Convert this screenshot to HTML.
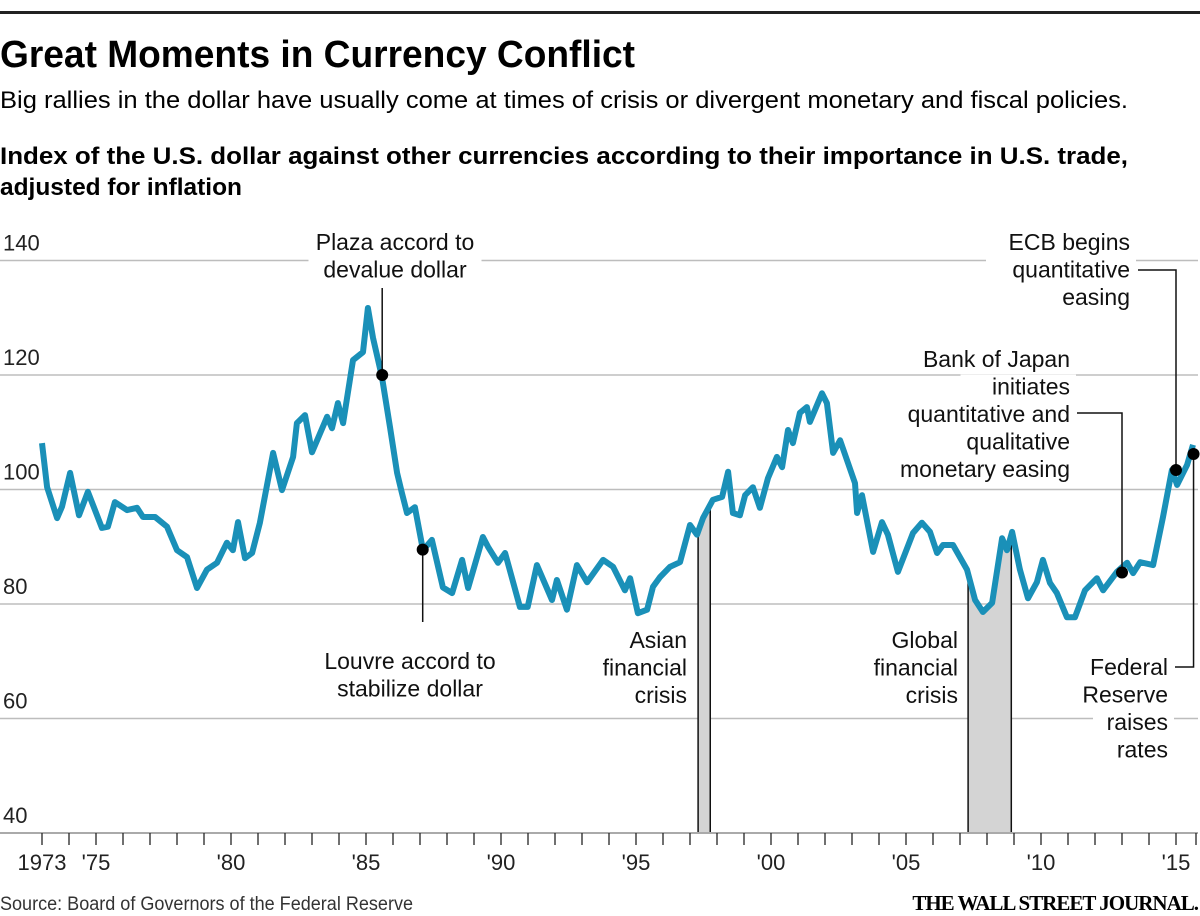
<!DOCTYPE html>
<html><head><meta charset="utf-8">
<style>
body{margin:0;background:#fff;width:1200px;height:916px;overflow:hidden;font-family:"Liberation Sans Narrow","Liberation Sans",sans-serif;color:#111}
svg{position:absolute;left:0;top:0}
</style></head>
<body>
<svg id="c" width="1200" height="916">
<rect x="0" y="11" width="1200" height="3" fill="#222"/>
<text x="0" y="67" font-size="38" font-weight="bold" textLength="635" lengthAdjust="spacingAndGlyphs">Great Moments in Currency Conflict</text>
<text x="0" y="108" font-size="24" textLength="1128" lengthAdjust="spacingAndGlyphs">Big rallies in the dollar have usually come at times of crisis or divergent monetary and fiscal policies.</text>
<text x="0" y="164" font-size="24" font-weight="bold" textLength="1128" lengthAdjust="spacingAndGlyphs">Index of the U.S. dollar against other currencies according to their importance in U.S. trade,</text>
<text x="0" y="195" font-size="24" font-weight="bold" textLength="242" lengthAdjust="spacingAndGlyphs">adjusted for inflation</text>
<g id="grid"></g><g id="shades"></g><g id="line"></g><g id="ann"></g><g id="axis"></g>
<text x="0" y="910" font-size="19" fill="#333" textLength="413" lengthAdjust="spacingAndGlyphs">Source: Board of Governors of the Federal Reserve</text>
<text x="1198" y="910" font-size="21" text-anchor="end" font-family="Liberation Serif, serif" font-weight="bold" letter-spacing="-1">THE WALL STREET JOURNAL.</text>
</svg>
<script>
const years=[1973.0,1973.19,1973.56,1973.74,1974.04,1974.37,1974.7,1975.22,1975.44,1975.7,1976.15,1976.52,1976.74,1977.19,1977.63,1978.0,1978.37,1978.74,1979.11,1979.48,1979.85,1980.07,1980.26,1980.52,1980.78,1981.07,1981.56,1981.89,1982.3,1982.44,1982.74,1983.0,1983.56,1983.74,1983.96,1984.15,1984.52,1984.89,1985.07,1985.26,1985.59,1985.89,1986.15,1986.33,1986.52,1986.81,1987.11,1987.44,1987.85,1988.19,1988.56,1988.78,1989.33,1989.52,1989.89,1990.15,1990.7,1990.99,1991.33,1991.89,1992.07,1992.44,1992.81,1993.19,1993.78,1994.15,1994.59,1994.78,1995.07,1995.41,1995.63,1995.89,1996.26,1996.63,1997.0,1997.26,1997.48,1997.85,1998.19,1998.41,1998.59,1998.85,1999.04,1999.33,1999.59,1999.89,2000.22,2000.41,2000.63,2000.81,2001.07,2001.33,2001.44,2001.89,2002.07,2002.3,2002.56,2003.11,2003.19,2003.37,2003.78,2004.11,2004.33,2004.7,2005.26,2005.59,2005.89,2006.15,2006.37,2006.74,2007.26,2007.56,2007.85,2008.19,2008.56,2008.74,2008.93,2009.22,2009.52,2009.85,2010.07,2010.33,2010.59,2010.96,2011.26,2011.63,2012.07,2012.3,2012.81,2013.19,2013.41,2013.67,2014.15,2014.52,2014.85,2015.04,2015.41,2015.63];
const values=[108.1,100.4,95,97,102.9,95.5,99.6,93.3,93.5,97.8,96.4,96.8,95.2,95.2,93.5,89.4,88.2,82.8,86,87.2,90.7,89.4,94.3,88,88.9,94.2,106.4,99.9,105.7,111.6,113,106.5,112.7,110.7,115.1,111.6,122.6,124,131.7,126.5,119.7,110.9,102.9,99.4,95.9,96.9,89.4,91.2,82.9,81.9,87.7,82.8,91.7,90,87.2,88.9,79.5,79.5,86.8,80.7,84.2,79,86.8,83.8,87.7,86.5,82.4,84.5,78.4,79,83,84.7,86.5,87.3,93.8,92.1,95,98.2,98.7,103.1,95.9,95.5,99,100.4,96.8,102,105.7,103.9,110.4,108.1,113.4,114.4,111.8,116.8,115.1,106.4,108.6,101.1,95.9,99,89.1,94.3,92.1,85.6,92.4,94.2,92.6,88.9,90.3,90.3,86,80.7,78.6,80.2,91.5,89.4,92.6,86,81,83.8,87.7,83.7,81.9,77.7,77.7,82.4,84.5,82.4,85.6,87.2,85.4,87.3,86.8,95.2,103.4,100.8,104.3,107.8];
const yTicks=[40,60,80,100,120,140];
const xTickLabels=["1973","'75","'80","'85","'90","'95","'00","'05","'10","'15"];
const xTickYears=[1973,1975,1980,1985,1990,1995,2000,2005,2010,2015];
const crises=[[1997.3,1997.75],[2007.3,2008.9]];
const events=[[1985.6,120],[1987.1,89.5],[2013.0,85.5],[2015.0,103.4],[2015.65,106.2]];
const NS="http://www.w3.org/2000/svg";
const X=y=>42+(y-1973)*27, Y=v=>833-(v-40)*114.5/20;
function mk(tag,attrs,parent){const e=document.createElementNS(NS,tag);for(const k in attrs)e.setAttribute(k,attrs[k]);parent.appendChild(e);return e;}
const g=id=>document.getElementById(id);
function interp(y){for(let i=1;i<years.length;i++){if(years[i]>=y){const t=(y-years[i-1])/(years[i]-years[i-1]);return values[i-1]+t*(values[i]-values[i-1]);}}return values[values.length-1];}
yTicks.forEach(t=>{
  if(t>40){const l=mk('line',{x1:0,x2:1198,y1:Y(t),y2:Y(t),stroke:'#bdbdbd','stroke-width':1.5},g('grid'));
  
  }
  const tx=mk('text',{x:3,y:Y(t)-10,'font-size':22,fill:'#222'},g('grid'));tx.textContent=t;
  
  
});
crises.forEach((c,i)=>{
  const pts=[[X(c[0]),833]];
  for(let s=0;s<=20;s++){const y=c[0]+(c[1]-c[0])*s/20;pts.push([X(y),Y(interp(y))]);}
  pts.push([X(c[1]),833]);
  const r=mk('polygon',{points:pts.map(q=>q[0].toFixed(1)+','+q[1].toFixed(1)).join(' '),fill:'#d4d4d4',stroke:'none'},g('shades'));
  
  
  [c[0],c[1]].forEach(y=>mk('line',{x1:X(y),x2:X(y),y1:Y(interp(y)),y2:833,stroke:'#111','stroke-width':1.5},g('shades')));
});
const p=mk('path',{d:years.map((y,i)=>(i?'L':'M')+X(y).toFixed(1)+','+Y(values[i]).toFixed(1)).join(''),fill:'none',stroke:'#1a90b8','stroke-width':6,'stroke-linejoin':'round'},g('line'));


const ax=g('axis');
const al=mk('line',{x1:0,x2:1198,y1:833,y2:833,stroke:'#aaa','stroke-width':2},ax);


for(let y=1973;y<=2015.9;y++){mk('line',{x1:X(y),x2:X(y),y1:833,y2:845,stroke:'#222','stroke-width':1.3},ax);}
mk('line',{x1:1196,x2:1196,y1:833,y2:845,stroke:'#222','stroke-width':1.3},ax);
xTickYears.forEach((y,i)=>{const t=mk('text',{x:X(y),y:870,'font-size':22,'text-anchor':'middle',fill:'#222'},ax);t.textContent=xTickLabels[i];
  
  });
const an=g('ann');
function label(lines,x,y0,anchor,name){lines.forEach((s,i)=>{const w=s.length*11.5;const bx=anchor==='end'?x-w:anchor==='middle'?x-w/2:x;
  mk('rect',{x:bx-6,y:y0+i*27.5-20,width:w+12,height:27,fill:'#fff'},an);});
  lines.forEach((s,i)=>{const t=mk('text',{x:x,y:y0+i*27.5,'font-size':23,'text-anchor':anchor,fill:'#111','font-family':'Liberation Sans, sans-serif'},an);t.textContent=s;
  
  });}
label(["Plaza accord to","devalue dollar"],395,250,'middle','plaza-label');
label(["Louvre accord to","stabilize dollar"],410,669,'middle','louvre-label');
label(["Asian","financial","crisis"],687,648,'end','asian-crisis-label');
label(["Global","financial","crisis"],958,648,'end','global-crisis-label');
label(["ECB begins","quantitative","easing"],1130,250,'end','ecb-label');
label(["Bank of Japan","initiates","quantitative and","qualitative","monetary easing"],1070,367,'end','boj-label');
label(["Federal","Reserve","raises","rates"],1168,675,'end','fed-label');
const L=(pts)=>mk('polyline',{points:pts.map(q=>q.join(',')).join(' '),fill:'none',stroke:'#111','stroke-width':1.5},an);
const e=events.map(v=>[X(v[0]),Y(v[1])]);
L([[e[0][0],288],e[0]]);
L([e[1],[e[1][0],622]]);
L([[1077,413],[e[2][0],413],e[2]]);
L([[1138,270],[e[3][0],270],e[3]]);
L([[1175,667],[e[4][0],667],e[4]]);
e.forEach((q,i)=>{const c=mk('circle',{cx:q[0],cy:q[1],r:6,fill:'#000'},an);
  
  });
</script>
</body></html>
